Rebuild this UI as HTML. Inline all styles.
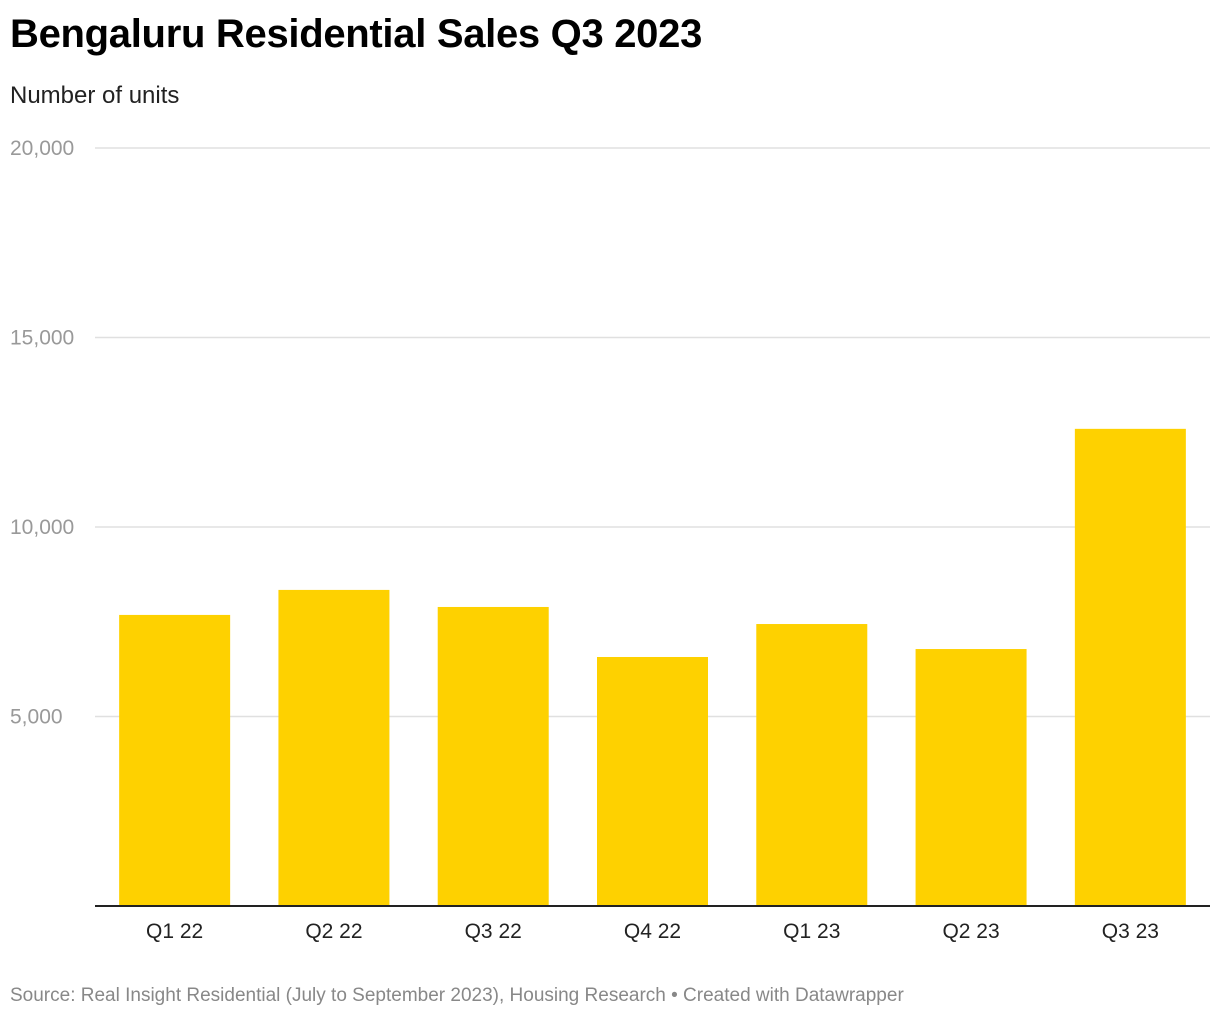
<!DOCTYPE html>
<html><head><meta charset="utf-8"><style>
body{margin:0;background:#fff;font-family:"Liberation Sans",Arial,sans-serif;}
#wrap{position:relative;width:1220px;height:1020px;}
h1{position:absolute;left:10px;top:12px;margin:0;font-size:40px;font-weight:bold;color:#000;letter-spacing:-0.3px}
.sub{position:absolute;left:10px;top:82px;font-size:24px;color:#222}
.src{position:absolute;left:10px;top:985px;font-size:19px;color:#888}
</style></head><body>
<div id="wrap">
<h1>Bengaluru Residential Sales Q3 2023</h1>
<div class="sub">Number of units</div>
<svg id="svg" width="1220" height="1020" style="position:absolute;left:0;top:0"></svg>
<div class="src">Source: Real Insight Residential (July to September 2023), Housing Research • Created with Datawrapper</div>
</div>
<script>
const categories=["Q1 22","Q2 22","Q3 22","Q4 22","Q1 23","Q2 23","Q3 23"];
const values=[7680,8340,7890,6570,7440,6780,12590];
const ticks=[5000,10000,15000,20000];
const tickLabels=["5,000","10,000","15,000","20,000"];
const NS="http://www.w3.org/2000/svg";
const svg=document.getElementById('svg');
const y0=906,y1=148,yMax=20000,xL=95,xR=1210;
const y=v=>y0-(v/yMax)*(y0-y1);
const band=(xR-xL)/categories.length,bw=111;
function mk(t,a){const e=document.createElementNS(NS,t);for(const k in a)e.setAttribute(k,a[k]);svg.appendChild(e);return e;}
ticks.forEach((t,i)=>{
 const g=mk('line',{x1:95,x2:1210,y1:y(t),y2:y(t),stroke:'#e0e0e0','stroke-width':1.5});
 
 const tx=mk('text',{x:10,y:y(t)+7,'font-size':21,fill:'#999','font-family':'Liberation Sans, sans-serif'});
 tx.textContent=tickLabels[i];
 
});
categories.forEach((c,i)=>{
 const cx=xL+band*(i+0.5);
 const r=mk('rect',{x:cx-bw/2,y:y(values[i]),width:bw,height:y0-y(values[i]),fill:'#fed100'});
 
 const t=mk('text',{x:cx,y:938,'font-size':21,fill:'#222','text-anchor':'middle','font-family':'Liberation Sans, sans-serif'});
 t.textContent=c;
 
});
const ax=mk('line',{x1:95,x2:1210,y1:y0,y2:y0,stroke:'#222','stroke-width':2});

</script>
</body></html>
